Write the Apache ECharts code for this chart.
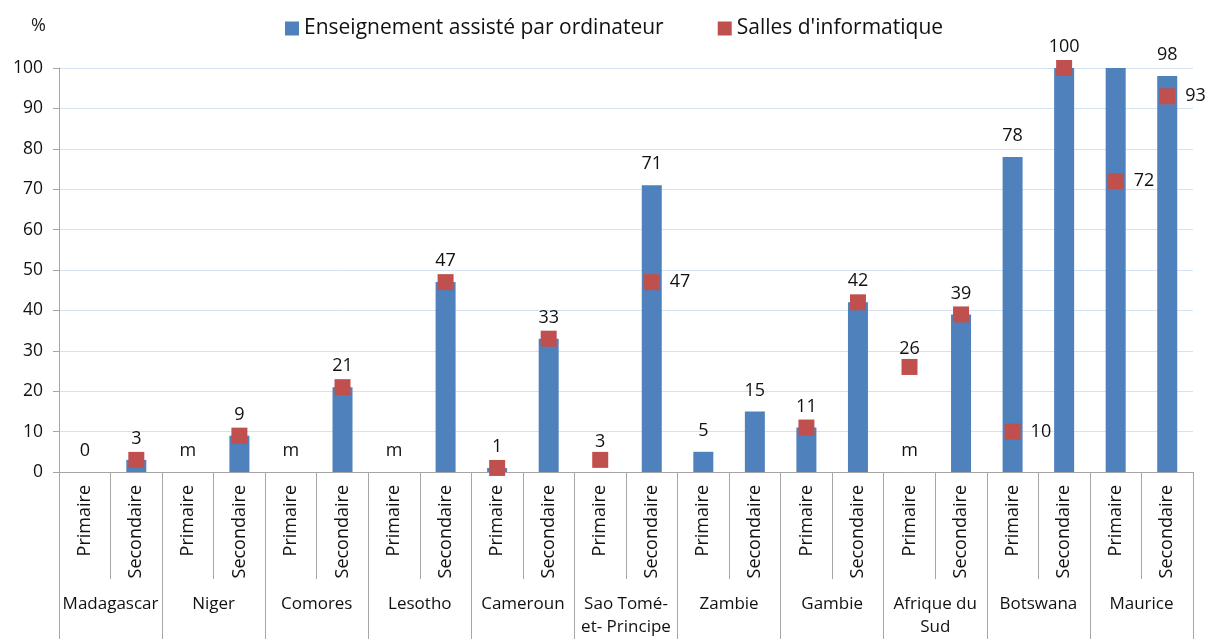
<!DOCTYPE html>
<html>
<head>
<meta charset="utf-8">
<script src="https://cdn.jsdelivr.net/npm/echarts@6/dist/echarts.min.js"></script>
<style>
  html, body { margin: 0; padding: 0; background: #fff; }
  #chart { width: 1207px; height: 639px; }
</style>
</head>
<body>
<div id="chart"></div>
<script>
// données
const countries = ['Madagascar', 'Niger', 'Comores', 'Lesotho', 'Cameroun', 'Sao Tomé-\net- Principe',
  'Zambie', 'Gambie', 'Afrique du\nSud', 'Botswana', 'Maurice'];
const levels = ['Primaire', 'Secondaire'];
const yTicks = [0, 100, 10];

// Enseignement assisté par ordinateur (null = manquant)
const barValues = [0, 3, null, 9, null, 21, null, 47, 1, 33, null, 71, 5, 15, 11, 42, null, 39, 78, 100, 100, 98];
const barLabels = ['0', '3', 'm', '9', 'm', '21', 'm', '47', '1', '33', '', '71', '5', '15', '11', '42', 'm', '39', '78', '100', '', '98'];
// Salles d'informatique
const roomValues = [null, 3, null, 9, null, 21, null, 47, 1, 33, 3, 47, null, null, 11, 42, 26, 39, 10, 100, 72, 93];

const font = '"Open Sans", "Noto Sans", sans-serif';
const grey = '#a6a6a6';

(function () {
    let myChart = echarts.init(document.getElementById('chart'));

    let subCats = [];
    countries.forEach(function () { levels.forEach(function (l) { subCats.push(l); }); });

    let barData = barValues.map(function (v) { return v === null ? 0 : v; });

    let roomData = roomValues.map(function (v, i) {
        if (v === null) return '-';
        let b = barValues[i];
        if (b === v) return v;
        // étiquette au-dessus si pas de barre, sinon à droite
        return {
            value: v,
            label: b === null
                ? { show: true, position: 'top', distance: 1, formatter: String(v) }
                : { show: true, position: 'right', distance: 10, formatter: String(v) }
        };
    });

    let option = {
        animation: false,
        textStyle: { fontFamily: font },
        title: {
            text: '%', left: 26, top: 12,
            textStyle: { fontFamily: font, fontSize: 18, fontWeight: 'normal', color: '#222' }
        },
        legend: {
            top: 13, left: 280,
            itemWidth: 14, itemHeight: 14, itemGap: 54,
            textStyle: { fontFamily: font, fontSize: 21, color: '#111' },
            data: [
                { name: 'Enseignement assisté par ordinateur', icon: 'rect' },
                { name: "Salles d'informatique", icon: 'rect' }
            ]
        },
        grid: { left: 59, right: 14, top: 68, bottom: 166 },
        xAxis: [{
            type: 'category',
            data: subCats,
            axisLine: { lineStyle: { color: grey } },
            axisTick: { show: true, interval: 0, length: 107, lineStyle: { color: grey } },
            axisLabel: {
                interval: 0, rotate: 90, margin: 13,
                fontFamily: font, fontSize: 18, color: '#111'
            }
        }, {
            type: 'category',
            data: countries,
            position: 'bottom',
            axisLine: { show: false },
            axisTick: { show: true, interval: 0, length: 170, lineStyle: { color: grey } },
            axisLabel: {
                interval: 0, margin: 121,
                fontFamily: font, fontSize: 17, lineHeight: 23, color: '#111'
            }
        }],
        yAxis: {
            type: 'value',
            min: yTicks[0], max: yTicks[1], interval: yTicks[2],
            axisLine: { show: true, lineStyle: { color: grey } },
            axisTick: { show: true, length: 6, lineStyle: { color: grey } },
            axisLabel: { margin: 16, fontFamily: font, fontSize: 17.5, color: '#111' },
            splitLine: { lineStyle: { color: '#d5e2f2' } }
        },
        series: [{
            name: 'Enseignement assisté par ordinateur',
            type: 'bar',
            xAxisIndex: 0,
            barWidth: 20,
            data: barData,
            itemStyle: { color: '#4f81bd' },
            label: {
                show: true, position: 'top', distance: 12,
                fontFamily: font, fontSize: 18, color: '#111',
                formatter: function (p) { return barLabels[p.dataIndex]; }
            }
        }, {
            name: "Salles d'informatique",
            type: 'scatter',
            xAxisIndex: 0,
            symbol: 'rect',
            symbolSize: 16,
            z: 3,
            data: roomData,
            itemStyle: { color: '#c0504d', opacity: 1 },
            label: { fontFamily: font, fontSize: 18, color: '#111' }
        }]
    };
    myChart.setOption(option);
    window.addEventListener('resize', function () {
        myChart.resize();
    });
})();
</script>
</body>
</html>
